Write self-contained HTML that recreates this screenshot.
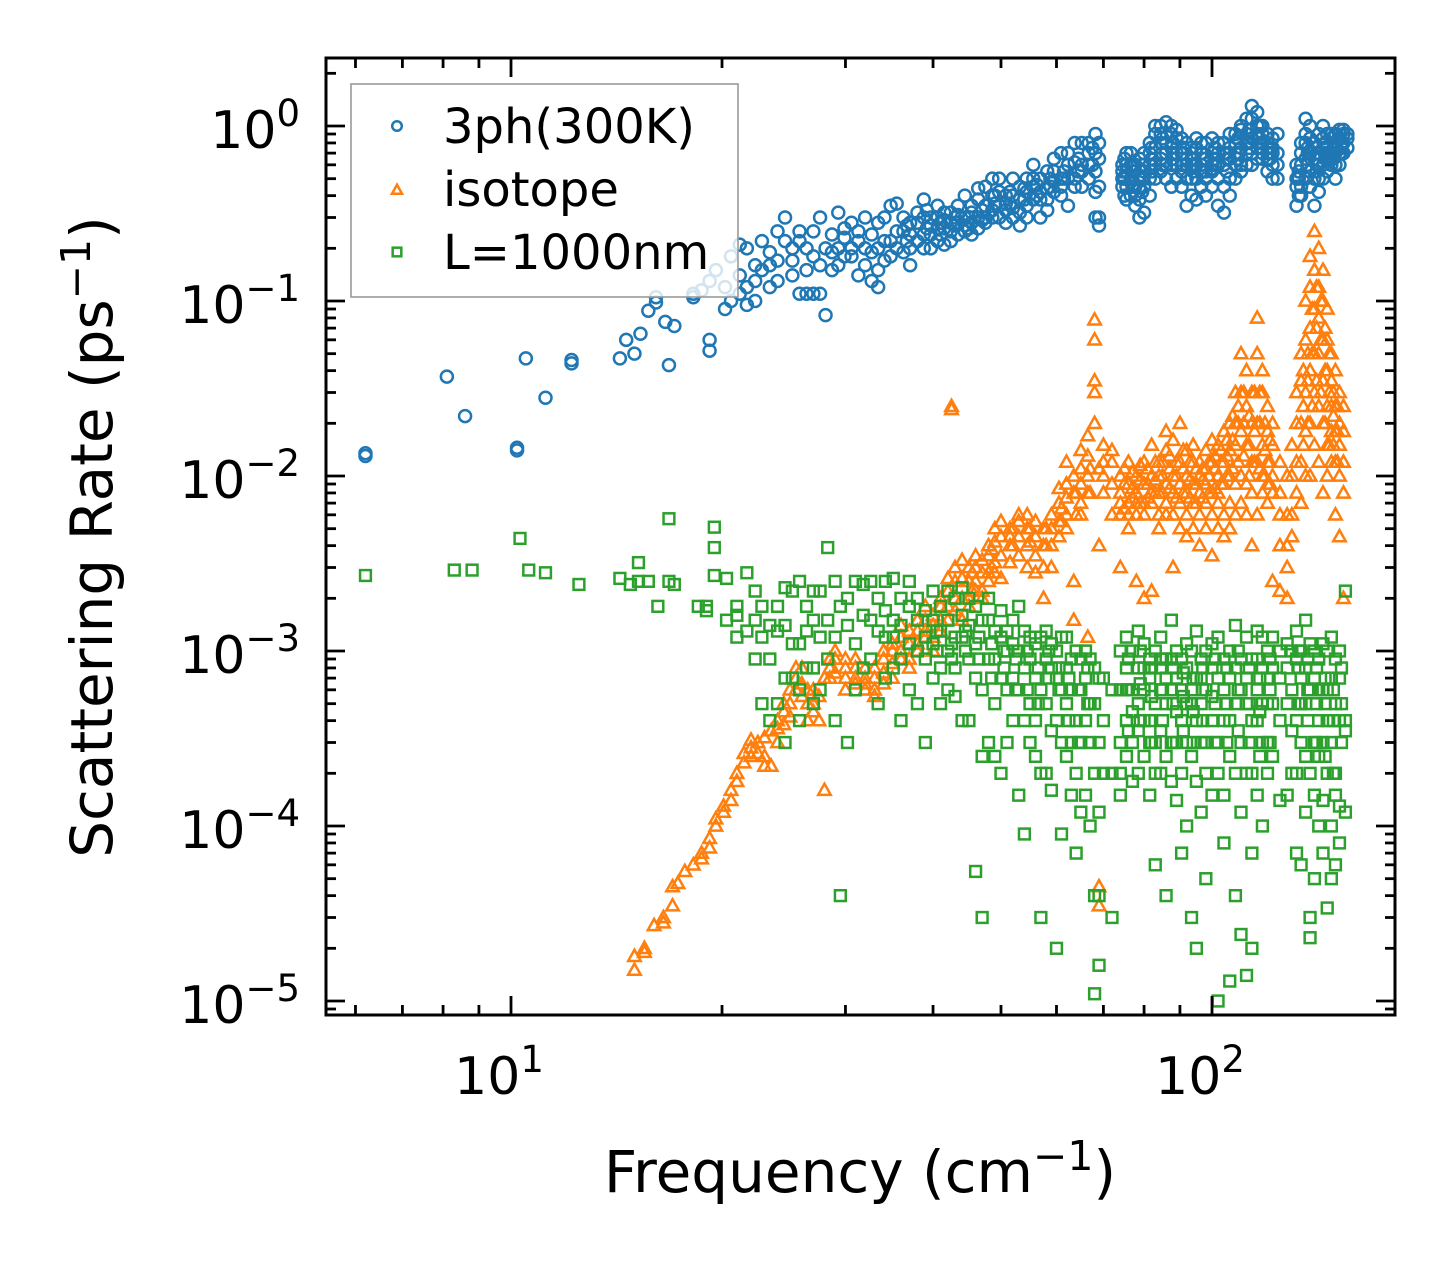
<!DOCTYPE html>
<html><head><meta charset="utf-8"><style>
html,body{margin:0;padding:0;background:#fff;}
svg{display:block;font-family:"DejaVu Sans","Liberation Sans",sans-serif;}
</style></head><body>
<svg id="chart" width="1455" height="1265" viewBox="0 0 1455 1265" xmlns="http://www.w3.org/2000/svg">
<rect x="0" y="0" width="1455" height="1265" fill="#fff"/>
<g id="marks"></g>
<g id="axes"></g>
</svg>
<script>
const xTickValues=[10,100];
const xTickExps=["1","2"];
const yTickValues=[1,0.1,0.01,0.001,0.0001,0.00001];
const yTickExps=["0","\u22121","\u22122","\u22123","\u22124","\u22125"];
const seriesNames=["3ph(300K)","isotope","L=1000nm"];
const blueData=[[6.2,[0.0135,0.013]],[8.1,[0.037]],[8.6,[0.022]],[10.2,[0.014,0.0145]],[10.5,[0.047]],[11.2,[0.028]],[12.2,[0.046,0.044]],[14.3,[0.047]],[14.6,[0.06]],[15.0,[0.05]],[15.3,[0.065]],[15.7,[0.088]],[16.1,[0.105,0.098]],[16.6,[0.076]],[16.8,[0.043]],[17.1,[0.072]],[18.2,[0.11,0.105]],[18.7,[0.115]],[19.2,[0.06,0.052,0.13]],[19.6,[0.15]],[20.2,[0.12,0.09]],[20.6,[0.1,0.18]],[21.2,[0.14,0.11,0.21]],[21.7,[0.2,0.12,0.095]],[22.3,[0.13,0.16,0.1]],[22.8,[0.22,0.15]],[23.4,[0.19,0.12,0.16]],[24,[0.25,0.17,0.13]],[24.6,[0.3,0.22]],[25.2,[0.2,0.14,0.17]],[25.8,[0.22,0.25,0.11]],[26.4,[0.15,0.2,0.11]],[27,[0.25,0.18,0.11]],[27.6,[0.11,0.3,0.16]],[28.1,[0.083,0.2]],[28.7,[0.15,0.24,0.19]],[29.3,[0.32,0.2,0.16]],[29.9,[0.26,0.18,0.23]],[30.6,[0.18,0.28,0.2]],[31.3,[0.25,0.14,0.22]],[32,[0.2,0.3,0.16]],[32.7,[0.13,0.24,0.19]],[33.4,[0.2,0.28,0.15,0.12]],[34.1,[0.3,0.22,0.17]],[34.8,[0.22,0.35,0.18]],[35.5,[0.36,0.25,0.2]],[36.3,[0.25,0.3,0.19]],[37.1,[0.2,0.28,0.24,0.16]],[38,[0.28,0.32,0.22]],[38.8,[0.38,0.24,0.2,0.3]],[39.7,[0.24,0.3,0.2,0.27]],[40.6,[0.3,0.22,0.35,0.26]],[41.5,[0.26,0.32,0.21,0.29]],[42.4,[0.32,0.25,0.28,0.22]],[43.4,[0.28,0.35,0.24,0.31]],[44.4,[0.25,0.3,0.4,0.27]],[45.4,[0.35,0.28,0.24,0.32]],[46.4,[0.3,0.38,0.26,0.44]],[47.5,[0.45,0.3,0.35,0.28]],[48.6,[0.3,0.4,0.33,0.5]],[49.7,[0.5,0.35,0.3,0.42]],[50.8,[0.28,0.4,0.36,0.33]],[52,[0.4,0.34,0.5,0.3]],[53.2,[0.32,0.45,0.38,0.27]],[54.4,[0.35,0.5,0.42,0.3]],[55.6,[0.5,0.38,0.45,0.6]],[56.9,[0.3,0.42,0.5,0.38]],[58.2,[0.38,0.55,0.44,0.33]],[59.5,[0.55,0.42,0.48,0.65]],[60.9,[0.7,0.4,0.5,0.45]],[62.3,[0.35,0.5,0.6,0.7]],[63.7,[0.5,0.62,0.45,0.8]],[65.2,[0.45,0.6,0.55,0.8]],[66.7,[0.8,0.5,0.6,0.7]],[68.2,[0.9,0.55,0.3,0.7,0.42]],[69,[0.65,0.8,0.45,0.27,0.3]],[74.5,[0.5,0.6,0.45,0.55]],[75.5,[0.6,0.45,0.55,0.7,0.38]],[76.6,[0.7,0.4,0.5,0.6,0.48]],[77.7,[0.4,0.55,0.45,0.6,0.35]],[78.8,[0.45,0.5,0.65,0.38,0.3]],[80,[0.55,0.45,0.6,0.32,0.7]],[81.5,[0.6,0.7,0.5,0.8,0.4]],[83,[0.75,0.9,0.6,0.5,1.0]],[84.5,[1.0,0.8,0.65,0.55,0.9]],[86,[0.8,1.05,0.7,0.6,0.5]],[87.5,[0.9,0.75,0.6,0.45,1.0]],[89,[0.7,0.85,0.5,0.6,0.95]],[90.5,[0.85,0.55,0.7,0.45,0.6]],[92,[0.65,0.8,0.5,0.6,0.35]],[93.5,[0.5,0.75,0.6,0.7,0.4]],[95,[0.75,0.6,0.5,0.85,0.38]],[96.5,[0.6,0.7,0.45,0.8,0.55]],[98,[0.55,0.65,0.8,0.5,0.4]],[100,[0.45,0.7,0.6,0.85,0.55]],[102,[0.7,0.5,0.6,0.35,0.8]],[104,[0.8,0.6,0.45,0.7,0.32]],[106,[0.4,0.65,0.75,0.5,0.9]],[108,[0.6,0.8,0.9,0.5,0.7]],[110,[0.75,0.95,0.6,1.0,0.55]],[112,[0.9,1.1,0.7,0.6,0.8]],[114,[1.1,1.3,0.85,0.7,0.6]],[116,[1.2,0.9,1.0,0.75,0.65]],[118,[1.0,0.8,0.9,0.65,0.7]],[120,[0.8,0.65,0.9,0.7,0.55]],[122,[0.6,0.75,0.85,0.5,0.7]],[124,[0.7,0.9,0.6,0.5]],[132,[0.45,0.6,0.35,0.5]],[134,[0.6,0.8,0.45,0.7,0.4]],[136,[0.8,1.1,0.65,0.5,0.9]],[138,[0.7,1.0,0.55,0.85,0.45]],[140,[0.65,0.5,0.8,0.35,0.75]],[142,[0.9,0.6,0.7,0.5,0.42]],[144,[1.0,0.75,0.6,0.85,0.5]],[146,[0.75,0.55,0.9,0.65,0.7]],[148,[0.85,0.65,0.7,0.6,0.9]],[150,[0.9,0.7,0.8,0.6,0.5]],[152,[0.7,0.85,0.95,0.6]],[154,[0.95,0.8,0.7,0.9]],[156,[0.85,0.75,0.9]]];
const blueExtra=[[36.7,[0.22,0.27]],[39.2,[0.26,0.33]],[41,[0.24,0.28]],[43,[0.27,0.3]],[45,[0.3,0.26]],[47,[0.33,0.29]],[49,[0.36,0.4]],[51.5,[0.36,0.42]],[54,[0.38,0.44]],[56.3,[0.4,0.46]],[58.8,[0.45,0.5]],[61.5,[0.5,0.55]],[64.5,[0.55,0.65]],[67.5,[0.6,0.75]],[75,[0.5,0.4,0.65]],[77,[0.45,0.55,0.5]],[79.5,[0.5,0.6,0.42]],[82,[0.65,0.55,0.75]],[85,[0.7,0.85,0.6]],[88,[0.8,0.65,0.7]],[91,[0.7,0.6,0.75]],[94,[0.6,0.55,0.65]],[97,[0.65,0.55,0.7]],[101,[0.6,0.65,0.75]],[105,[0.65,0.55,0.7]],[109,[0.7,0.65,0.85]],[113,[0.8,0.95,0.75]],[117,[0.85,1.0,0.8]],[121,[0.75,0.65,0.7]],[133,[0.5,0.55,0.4]],[137,[0.7,0.6,0.75]],[141,[0.6,0.7,0.55]],[145,[0.7,0.65,0.8]],[149,[0.75,0.7,0.65]],[153,[0.8,0.75,0.7]]];
const orangeData=[[15,[1.8e-5,1.5e-5]],[15.5,[1.9e-5,2e-5]],[16,[2.7e-5]],[16.5,[3e-5,2.8e-5]],[17,[3.5e-5,4.5e-5]],[17.3,[4.7e-5]],[17.7,[5.5e-5]],[18.2,[6e-5]],[18.7,[7e-5,6.5e-5]],[19.2,[8.5e-5,7.5e-5]],[19.6,[1.1e-4,1e-4]],[20.1,[1.3e-4,1.2e-4]],[20.6,[1.6e-4,1.4e-4]],[21,[2e-4,1.8e-4]],[21.5,[2.6e-4,2.3e-4]],[22,[3.1e-4,2.8e-4,2.5e-4]],[22.5,[3e-4,2.6e-4]],[23,[2.5e-4,3.2e-4,2.2e-4]],[23.5,[3.5e-4,2.2e-4]],[24,[4e-4,3.6e-4,3e-4]],[24.5,[5e-4,4.5e-4,3.8e-4]],[25,[6e-4,5e-4,4.2e-4]],[25.5,[7e-4,6e-4,8e-4]],[26,[8e-4,6.5e-4,5.5e-4]],[26.5,[6e-4,4e-4,5e-4]],[27,[5e-4,6e-4,4.5e-4]],[27.5,[4e-4,5.5e-4]],[28,[1.6e-4,7e-4]],[28.5,[8e-4,9e-4,7e-4]],[29,[9e-4,7.5e-4,1e-3]],[30,[7e-4,8e-4,6e-4,9e-4]],[31,[8e-4,7e-4,6.5e-4,9e-4]],[32,[6.5e-4,7e-4,8e-4,6e-4]],[33,[6e-4,7e-4,5.5e-4,8e-4]],[34,[7.5e-4,6.5e-4,9e-4,1e-3]],[35,[8.5e-4,1e-3,1.1e-3,7e-4]],[36,[1e-3,1.2e-3,9e-4,1.4e-3]],[37,[9e-4,1.1e-3,1.3e-3,8e-4]],[38,[1.1e-3,1.3e-3,1e-3,1.5e-3]],[39,[1.3e-3,1.5e-3,1.2e-3,1.8e-3]],[40,[1.2e-3,1.6e-3,1.4e-3,1e-3]],[41,[1.5e-3,1.8e-3,1.3e-3,2e-3]],[42,[1.8e-3,2.2e-3,1.5e-3,2.6e-3]],[42.5,[0.025,0.024]],[43,[2e-3,2.5e-3,3e-3,1.7e-3]],[44,[1.5e-3,2e-3,2.6e-3,3.3e-3]],[45,[2.5e-3,3e-3,2e-3,1.8e-3]],[46,[3e-3,2.5e-3,2.2e-3,3.5e-3]],[47,[2.2e-3,2.8e-3,3.3e-3,2e-3]],[48,[2.8e-3,3.5e-3,4e-3,2.5e-3]],[49,[3.2e-3,4.2e-3,2.8e-3,5e-3]],[50,[3.5e-3,4.5e-3,5.5e-3,2.6e-3]],[51.5,[4e-3,5e-3,3.2e-3,4.5e-3]],[53,[4.5e-3,3.5e-3,5.5e-3,6e-3]],[54.5,[5e-3,4e-3,3e-3,6e-3]],[56,[4.5e-3,5.5e-3,3.5e-3,2.8e-3]],[57.5,[3e-3,4e-3,5e-3,2e-3]],[59,[5e-3,6e-3,4e-3,3e-3]],[60.5,[7e-3,5.5e-3,4.5e-3,8.5e-3]],[62,[6e-3,7.5e-3,5e-3,9e-3,1.2e-2]],[63.5,[1.5e-3,2.5e-3,8e-3,1e-2]],[65,[7e-3,9e-3,1.1e-2,1.4e-2,6e-3]],[66.5,[1e-2,1.3e-2,8e-3,1.7e-2,1.2e-3]],[68,[2e-2,0.06,0.078,0.035,0.03]],[69,[4e-3,3.5e-5,4.5e-5,1.1e-2]],[70,[0.01,0.012,0.008,0.015]],[72,[0.014,0.009,0.012,0.006]],[74,[0.008,0.006,0.01,0.007,0.003]],[76,[0.007,0.009,0.006,0.012,0.005]],[78,[0.008,0.01,0.006,0.007,0.0025]],[80,[0.009,0.006,0.012,0.007,0.002]],[82,[0.015,0.01,0.007,0.008,0.0022]],[84,[0.012,0.008,0.006,0.01,0.005]],[86,[0.018,0.009,0.007,0.014,0.006]],[88,[0.016,0.01,0.008,0.006,0.003]],[90,[0.02,0.012,0.009,0.007,0.005]],[92,[0.014,0.01,0.008,0.006,0.0045]],[94,[0.012,0.009,0.007,0.005,0.015]],[96,[0.01,0.008,0.012,0.006,0.004]],[98,[0.011,0.009,0.007,0.014,0.005]],[100,[0.012,0.008,0.006,0.016,0.0035]],[102,[0.015,0.01,0.008,0.007,0.005]],[104,[0.018,0.012,0.009,0.006,0.0045]],[106,[0.02,0.014,0.01,0.007,0.005]],[108,[0.03,0.02,0.015,0.009,0.006]],[110,[0.05,0.03,0.018,0.01,0.007]],[112,[0.04,0.025,0.015,0.009,0.006]],[114,[0.03,0.02,0.012,0.008,0.004]],[116,[0.08,0.05,0.02,0.012,0.006]],[118,[0.04,0.03,0.015,0.01,0.008]],[120,[0.025,0.018,0.012,0.009,0.007]],[122,[0.02,0.015,0.01,0.008,0.0025]],[125,[0.012,0.008,0.006,0.004,0.0022]],[128,[0.01,0.006,0.004,0.003,0.002]],[130,[0.015,0.01,0.006,0.0045]],[132,[0.03,0.02,0.012,0.008]],[134,[0.05,0.035,0.02,0.012,0.007]],[136,[0.1,0.06,0.03,0.018,0.01]],[138,[0.18,0.12,0.07,0.04,0.02,0.01]],[140,[0.25,0.15,0.09,0.05,0.03,0.015]],[142,[0.2,0.12,0.08,0.05,0.025,0.012]],[144,[0.15,0.1,0.06,0.035,0.02,0.008]],[146,[0.09,0.06,0.04,0.025,0.015,0.01]],[148,[0.05,0.035,0.025,0.018,0.012]],[150,[0.04,0.025,0.018,0.012,0.006]],[152,[0.03,0.02,0.015,0.01,0.0045]],[154,[0.025,0.018,0.012,0.008,0.002]]];
const orangeExtra=[[45.5,[2.2e-3,2.8e-3]],[48.5,[3e-3,3.8e-3]],[52,[4e-3,5e-3]],[55,[4.2e-3,5e-3]],[58,[4e-3,5e-3]],[61,[5.5e-3,6.5e-3]],[64,[6e-3,8e-3]],[67,[8e-3,1.1e-2]],[75,[0.0065,0.009,0.011]],[77,[0.0075,0.0085,0.0105]],[79,[0.007,0.0095,0.0115]],[81,[0.0075,0.009,0.011]],[83,[0.008,0.0095,0.012]],[85,[0.008,0.01,0.012]],[87,[0.0085,0.011,0.013]],[89,[0.0075,0.01,0.012]],[91,[0.008,0.011,0.014]],[93,[0.0075,0.0095,0.012]],[95,[0.007,0.009,0.011]],[97,[0.0075,0.0095,0.011]],[99,[0.008,0.01,0.012]],[101,[0.0085,0.011,0.013]],[103,[0.009,0.012,0.014]],[105,[0.01,0.013,0.016]],[107,[0.011,0.016,0.022]],[109,[0.012,0.02,0.025]],[111,[0.013,0.02,0.03]],[113,[0.01,0.015,0.022]],[115,[0.012,0.018,0.03]],[117,[0.011,0.02,0.03]],[119,[0.01,0.014,0.02]],[121,[0.009,0.012,0.016]],[135,[0.015,0.025,0.04]],[137,[0.02,0.035,0.05]],[139,[0.025,0.05,0.09]],[141,[0.035,0.07,0.12]],[143,[0.03,0.06,0.1]],[145,[0.02,0.04,0.07]],[147,[0.015,0.03,0.05]],[149,[0.015,0.022,0.03]],[151,[0.012,0.018,0.025]]];
const greenData=[[6.2,[2.7e-3]],[8.3,[2.9e-3]],[8.8,[2.9e-3]],[10.3,[4.4e-3]],[10.6,[2.9e-3]],[11.2,[2.8e-3]],[12.5,[2.4e-3]],[14.3,[2.6e-3]],[14.8,[2.4e-3]],[15.2,[3.2e-3,2.5e-3]],[15.7,[2.5e-3]],[16.2,[1.8e-3]],[16.8,[5.7e-3,2.5e-3]],[17.1,[2.4e-3]],[18.5,[1.8e-3]],[19,[1.8e-3,1.7e-3]],[19.5,[5.1e-3,3.9e-3,2.7e-3]],[20.3,[2.6e-3,1.5e-3]],[21,[1.6e-3,1.2e-3,1.8e-3]],[21.7,[1.3e-3,2.8e-3]],[22.3,[9e-4,1.5e-3,2.2e-3]],[22.8,[5e-4,1.8e-3,1.2e-3]],[23.4,[9e-4,1.4e-3,4e-4]],[24,[1.8e-3,1.3e-3,5e-4]],[24.6,[1.4e-3,2.3e-3,7e-4,3e-4]],[25.2,[2.2e-3,7e-4,1.1e-3]],[25.8,[1.1e-3,6e-4,2.5e-3,4e-4]],[26.4,[1.8e-3,8e-4,1.3e-3]],[27,[8e-4,2.2e-3,1.5e-3,5e-4]],[27.6,[2.2e-3,1.2e-3,6e-4]],[28.3,[3.9e-3,1.5e-3,9e-4]],[29,[1.2e-3,2.5e-3,4e-4]],[29.5,[4e-5,1.8e-3]],[30.2,[1.4e-3,3e-4,2e-3]],[31,[2.5e-3,1.1e-3,6e-4]],[31.8,[8e-4,1.6e-3,2.4e-3]],[32.6,[1.5e-3,2.5e-3,9e-4]],[33.4,[5e-4,1.3e-3,2e-3]],[34.2,[2.5e-3,1.2e-3,7e-4,1.7e-3]],[35.1,[1.2e-3,2.6e-3,8e-4,1.5e-3]],[36,[9e-4,1.4e-3,2e-3,4e-4]],[37,[1.8e-3,1.1e-3,2.5e-3,6e-4]],[38,[5e-4,1.5e-3,1e-3,2e-3]],[39,[3e-4,1.2e-3,1.7e-3,9e-4]],[40,[1.5e-3,7e-4,2.2e-3,1.1e-3]],[41,[8e-4,1.3e-3,5e-4,1.8e-3]],[42,[2.2e-3,1e-3,1.5e-3,6e-4]],[43,[5.5e-4,1.2e-3,2e-3,8e-4]],[44,[1.2e-3,4e-4,1.6e-3,2.3e-3]],[45,[4e-4,9e-4,1.4e-3,2e-3]],[46,[5.5e-5,1.1e-3,7e-4,1.8e-3]],[47,[3e-5,1.5e-3,6e-4,2.5e-4]],[48,[1.5e-3,9e-4,3e-4,2e-3]],[49,[9e-4,1.3e-3,5e-4,2.5e-4]],[50,[2e-4,1.2e-3,7e-4,1.7e-3]],[51,[1.3e-3,6e-4,3e-4,1e-3]],[52,[7e-4,1.5e-3,4e-4,1.1e-3]],[53,[1.5e-4,1e-3,6e-4,1.8e-3]],[54,[9e-5,8e-4,1.3e-3,4e-4]],[55,[1.2e-3,5e-4,3e-4,9e-4]],[56,[4e-4,1.1e-3,2.5e-4,7e-4]],[57,[3e-5,6e-4,1.2e-3,2e-4]],[58,[2e-4,9e-4,5e-4,1.3e-3]],[59,[8e-4,3.5e-4,1.1e-3,1.6e-4]],[60,[2e-5,7e-4,1e-3,4e-4]],[61,[6e-4,1.2e-3,3e-4,9e-5]],[62,[1.2e-3,5e-4,8e-4,2.5e-4]],[63,[3e-4,1.5e-4,9e-4,6e-4]],[64,[7e-5,4e-4,1e-3,2e-4]],[65,[9e-4,3e-4,6e-4,1.2e-4]],[66,[1.5e-4,7e-4,4e-4,1e-3]],[67,[1e-4,5e-4,9e-4,3e-4]],[68,[5e-4,1.1e-5,4e-5,8e-4,2e-4]],[69,[4e-5,1.6e-5,7e-4,3e-4,1.2e-4]],[70,[7e-4,4e-4,2e-4]],[72,[2e-4,3e-5,6e-4]],[74,[6e-4,3e-4,1e-3,2e-4,1.5e-4]],[75.5,[4e-4,8e-4,2.5e-4,1.2e-3,6e-4]],[77,[3e-4,6e-4,1e-3,1.8e-4,4.5e-4]],[78.5,[5e-4,8e-4,2e-4,1.3e-3,3.5e-4]],[80,[8e-4,4e-4,2.5e-4,6e-4,1.1e-3]],[81.5,[4e-4,7e-4,1.5e-4,9e-4,3e-4]],[83,[2e-4,5e-4,1e-3,6e-5,3e-4]],[84.5,[6e-4,3.5e-4,8e-4,2e-4,1.2e-3]],[86,[4e-5,5e-4,9e-4,2.5e-4,7e-4]],[87.5,[9e-4,3e-4,6e-4,1.8e-4,1.5e-3]],[89,[3e-4,7e-4,4.5e-4,1e-3,1.4e-4]],[90.5,[6e-4,2e-4,9e-4,4e-4,7e-5]],[92,[1e-4,5e-4,8e-4,3e-4,1.1e-3]],[93.5,[5e-4,2.5e-4,1e-3,6e-4,3e-5]],[95,[2e-5,7e-4,4e-4,1.3e-3,1.8e-4]],[96.5,[7e-4,3e-4,5e-4,9e-4,1.2e-4]],[98,[3e-4,6e-4,1e-3,2e-4,5e-5]],[100,[1.5e-4,4e-4,8e-4,5.5e-4,1.1e-3]],[102,[1e-5,3e-4,7e-4,1.2e-3,2e-4]],[104,[6e-4,1.5e-4,4e-4,9e-4,8e-5]],[106,[4e-4,7e-4,2.5e-4,1e-3,1.3e-5]],[108,[2e-4,5e-4,8e-4,1.4e-3,4e-5]],[110,[9e-4,3e-4,6e-4,1.2e-4,2.4e-5]],[112,[5e-4,1.2e-3,2e-4,7e-4,1.4e-5]],[114,[2e-4,4e-4,9e-4,7e-5,2e-5]],[116,[9e-4,1.3e-3,4e-4,6e-4,1.5e-4]],[118,[1.2e-3,5e-4,3e-4,8e-4,1e-4]],[120,[3e-4,7e-4,1e-3,5e-4,2e-4]],[122,[5e-4,8e-4,2.5e-4,1.2e-3]],[125,[1.4e-4,4e-4,7e-4,1e-3]],[128,[8e-4,5e-4,1.5e-4,1.1e-3]],[130,[2e-4,6e-4,1e-3,3.5e-4]],[132,[9e-4,1.3e-3,4e-4,2e-4,7e-5]],[134,[6e-5,5e-4,1e-3,7e-4,3e-4]],[136,[5e-4,8e-4,1.5e-3,2.5e-4,1.2e-4]],[138,[3e-5,2.3e-5,6e-4,1.1e-3,2e-4]],[140,[3e-4,7e-4,1e-3,1.5e-4,5e-5]],[142,[1e-4,4e-4,9e-4,6e-4,2.5e-4]],[144,[1.1e-3,6e-4,3e-4,1.4e-4,7e-5]],[146,[6e-4,1e-3,4e-4,2e-4,3.4e-5]],[148,[3e-4,7e-4,1.2e-3,1e-4,5e-5]],[150,[5e-4,9e-4,2e-4,1.5e-4,6e-5]],[152,[8e-5,4e-4,7e-4,1e-3,1.3e-4]],[155,[4e-4,3.5e-4,2.2e-3,1.2e-4]]];
const greenExtra=[[40.5,[1e-3,1.3e-3]],[42.5,[1.1e-3,9e-4]],[44.5,[1e-3,1.3e-3]],[46.5,[1.2e-3,9e-4]],[48.5,[1.1e-3,7e-4]],[50.5,[1e-3,8e-4]],[52.5,[9e-4,6e-4]],[54.5,[1e-3,6e-4]],[56.5,[8e-4,5e-4]],[58.5,[7e-4,1e-3]],[60.5,[6e-4,8e-4]],[62.5,[7e-4,4e-4]],[64.5,[6e-4,3e-4]],[66.5,[5e-4,8e-4]],[76,[3.5e-4,6e-4,9e-4]],[79,[4e-4,6.5e-4,1e-3]],[82,[3e-4,5.5e-4,8e-4]],[85,[4e-4,6e-4,9e-4]],[88,[3e-4,5e-4,8e-4]],[91,[3.5e-4,5.5e-4,7.5e-4]],[94,[3e-4,4.5e-4,7e-4]],[97,[4e-4,6e-4,8e-4]],[101,[3e-4,5e-4,9e-4]],[105,[3e-4,5e-4,8e-4]],[109,[3.5e-4,6e-4,1e-3]],[113,[3e-4,5e-4,8e-4]],[117,[2.5e-4,4.5e-4,7e-4]],[121,[3e-4,6e-4,9e-4]],[133,[5e-4,8e-4,1e-3]],[137,[4e-4,6e-4,9e-4]],[141,[3e-4,5e-4,8e-4]],[145,[2.5e-4,5e-4,7e-4]],[149,[2e-4,4e-4,6e-4]],[153,[3e-4,5e-4,8e-4]]];

const NS="http://www.w3.org/2000/svg";
const L=326,R=1395,T=58,B=1015;
function xPix(v){return 511+701*(Math.log10(v)-1);}
function yPix(v){return 126-175*Math.log10(v);}
const marks=document.getElementById('marks');
const axes=document.getElementById('axes');
function mk(tag,attrs,parent){const e=document.createElementNS(NS,tag);for(const k in attrs)e.setAttribute(k,attrs[k]);parent.appendChild(e);return e;}
const cp=mk('clipPath',{id:'clip'},marks);mk('rect',{x:L,y:T,width:R-L,height:B-T},cp);
const colors=["#1f77b4","#ff7f0e","#2ca02c"];
function marker(kind,cx,cy,s,parent){
  let e;
  if(kind===0){e=mk('circle',{cx:cx,cy:cy,r:6*s,fill:'none',stroke:colors[0],'stroke-width':2.5},parent);}
  else if(kind===1){const h=6.6*s;e=mk('polygon',{points:`${cx},${cy-h} ${cx-h*0.95},${cy+h*0.7} ${cx+h*0.95},${cy+h*0.7}`,fill:'none',stroke:colors[1],'stroke-width':2.5},parent);}
  else {const h=5.4*s;e=mk('rect',{x:cx-h,y:cy-h,width:2*h,height:2*h,fill:'none',stroke:colors[2],'stroke-width':2.5},parent);}
  return e;
}
const allSeries=[blueData.concat(blueExtra),orangeData.concat(orangeExtra),greenData.concat(greenExtra)];
const seriesKeys=["3ph","isotope","boundary"];
allSeries.forEach((data,si)=>{
  const g=mk('g',{'clip-path':'url(#clip)'},marks);
  
  
  data.forEach(([xv,ys])=>{ys.forEach(yv=>{
    const m=marker(si,xPix(xv),yPix(yv),1,g);
    
    
  });});
});
const frame=mk('rect',{x:L,y:T,width:R-L,height:B-T,fill:'none',stroke:'#000','stroke-width':3},axes);


const xlo=Math.log10(5.43),xhi=2.261;
for(let d=0;d<=2;d++){for(let k=1;k<=9;k++){const v=k*Math.pow(10,d);const lv=Math.log10(v);if(lv<xlo||lv>xhi)continue;
  const x=xPix(v);const len=(k===1)?19:10;
  mk('line',{x1:x,y1:B,x2:x,y2:B-len,stroke:'#000','stroke-width':2.8},axes);
  mk('line',{x1:x,y1:T,x2:x,y2:T+len,stroke:'#000','stroke-width':2.8},axes);}}
xTickValues.forEach((v,i)=>{const t=mk('text',{x:xPix(v)-12,y:1094,'font-size':52,'text-anchor':'middle'},axes);
  
  
  t.textContent='10';const s=mk('tspan',{dy:-22,'font-size':37},t);s.textContent=xTickExps[i];});
for(let d=-6;d<=0;d++){for(let k=1;k<=9;k++){const v=k*Math.pow(10,d);const y=yPix(v);if(y<T||y>B)continue;
  const len=(k===1)?19:10;
  mk('line',{x1:L,y1:y,x2:L+len,y2:y,stroke:'#000','stroke-width':2.8},axes);
  mk('line',{x1:R,y1:y,x2:R-len,y2:y,stroke:'#000','stroke-width':2.8},axes);}}
yTickValues.forEach((v,i)=>{const t=mk('text',{x:300,y:yPix(v)+22,'font-size':52,'text-anchor':'end'},axes);
  
  
  t.textContent='10';const s=mk('tspan',{dy:-22,'font-size':37},t);s.textContent=yTickExps[i];});
const xt=mk('text',{x:860,y:1192,'font-size':58,'text-anchor':'middle'},axes);


xt.textContent='Frequency (cm';const xs=mk('tspan',{dy:-22,'font-size':41},xt);xs.textContent='\u22121';const xe=mk('tspan',{dy:22},xt);xe.textContent=')';
const yt=mk('text',{x:0,y:0,'font-size':58,'text-anchor':'middle',transform:'translate(112,537) rotate(-90)'},axes);


yt.textContent='Scattering Rate (ps';const ys=mk('tspan',{dy:-22,'font-size':41},yt);ys.textContent='\u22121';const ye=mk('tspan',{dy:22},yt);ye.textContent=')';
const lg=mk('g',{},axes);


mk('rect',{x:351,y:84,width:387,height:213,fill:'#fff','fill-opacity':0.8,stroke:'#999','stroke-width':1.6},lg);
const rowsY=[126,189,252];
seriesNames.forEach((n,i)=>{
  const e=mk('g',{},lg);
  
  
  marker(i,397,rowsY[i]+(i===1?1:0),0.8,e);
  const t=mk('text',{x:443,y:rowsY[i]+17,'font-size':48},e);t.textContent=n;
});
</script>
</body></html>
